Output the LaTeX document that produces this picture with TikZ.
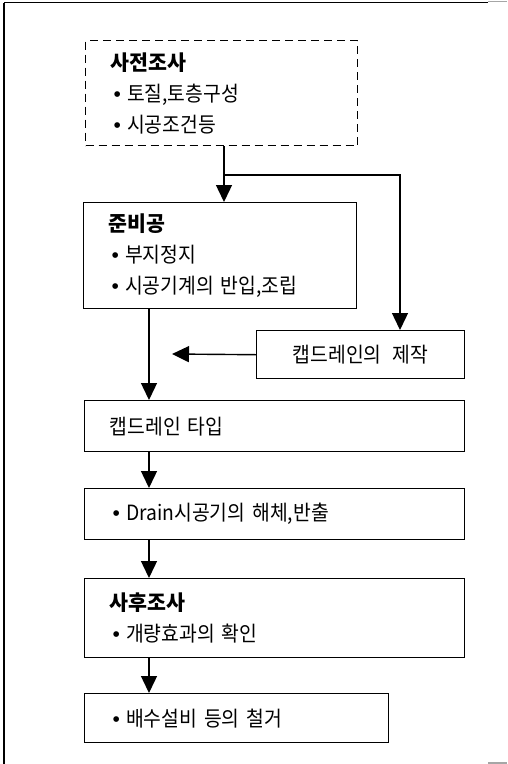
\documentclass[tikz,border=0pt]{standalone}
\usepackage{fontspec}
\setmainfont{Noto Sans CJK KR}[FakeStretch=0.92, WordSpace=2.6, BoldFeatures={FakeStretch=0.98}]
\newfontfamily\bulfont{Liberation Sans}
\usetikzlibrary{arrows.meta}
\newcommand\bul{\hspace{3pt}{\bulfont •}\hspace{6pt}}
\tikzset{
  box/.style={draw, line width=1.4pt, anchor=north west, inner sep=0pt, inner xsep=25pt, align=left,
    font=\fontsize{21}{31}\selectfont},
  arr/.style={line width=1.4pt, -{Triangle[width=16pt,length=17pt]}},
  frame/.style={line width=1.4pt}
}
\begin{document}
\begin{tikzpicture}[x=1pt,y=-1pt]
\useasboundingbox (0,0) rectangle (507,764);
% outer frame
\draw[frame] (4,2.5) -- (488,2.5);
\draw[gray!70, line width=1.6pt] (488,1.5) -- (507,1.5);
\draw[frame] (4,2.5) -- (4,764);
\draw[gray!70, line width=1.2pt] (488,763) -- (507,763);
% boxes
\node[box, dashed, dash pattern=on 8pt off 5pt, minimum width=272pt, minimum height=105pt, text width=222pt] (b1) at (85,40)
  {\textbf{사전조사}\\ \bul 토질,토층구성\\ \bul 시공조건등};
\node[box, minimum width=273pt, minimum height=106pt, text width=223pt] (b2) at (83,202)
  {\textbf{준비공}\\ \bul 부지정지\\ \bul 시공기계의 반입,조립};
\node[box, minimum width=208pt, minimum height=48pt, inner xsep=0pt, align=center] (b3) at (256,330)
  {캡드레인의 제작};
\node[box, minimum width=380pt, minimum height=51pt, text width=330pt] (b4) at (84,400)
  {캡드레인 타입};
\node[box, minimum width=380pt, minimum height=51pt, text width=330pt] (b5) at (84,488)
  {\bul Drain시공기의 해체,반출};
\node[box, minimum width=380pt, minimum height=79pt, text width=330pt] (b6) at (84,578)
  {\textbf{사후조사}\\ \bul 개량효과의 확인};
\node[box, minimum width=304pt, minimum height=49pt, text width=254pt] (b7) at (84,693)
  {\bul 배수설비 등의 철거};
% connector coordinates
\coordinate (c1) at (224,175);
\coordinate (c2) at (400,175);
\coordinate (c3) at (172,354);
\coordinate (c4) at (149,380);
% connectors
\draw[line width=1.4pt] (b1.south -| c1) -- (c1);
\draw[arr] (c1) -- (b2.north -| c1);
\draw[arr] (c1) -- (c2) -- (b3.north -| c2);
\draw[arr] (b3.west) -- (c3);
\draw[arr] (b2.south -| c4) -- (b4.north -| c4);
\draw[arr] (b4.south -| c4) -- (b5.north -| c4);
\draw[arr] (b5.south -| c4) -- (b6.north -| c4);
\draw[arr] (b6.south -| c4) -- (b7.north -| c4);
\end{tikzpicture}
\end{document}
